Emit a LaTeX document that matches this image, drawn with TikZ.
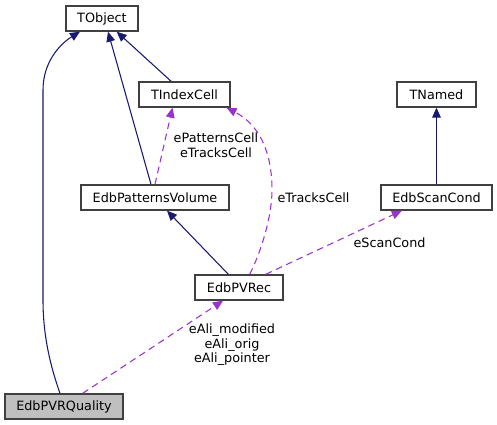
\documentclass[tikz,border=0pt]{standalone}
\usepackage{fontspec}
\setmainfont{DejaVu Sans}
\usetikzlibrary{arrows.meta}
\definecolor{inhc}{HTML}{191970}
\definecolor{usec}{HTML}{9A32CD}
\definecolor{boxc}{HTML}{404040}
\begin{document}
\begin{tikzpicture}[x=0.75pt,y=-0.75pt,
  cls/.style={draw=boxc,line width=1pt,fill=white,inner sep=0pt,minimum height=18.75pt,font=\fontsize{9.6pt}{11pt}\selectfont},
  inh/.style={draw=inhc,line width=0.8pt,-{Triangle[length=7.5pt,width=6.5pt]}},
  use/.style={draw=usec,line width=0.8pt,dash pattern=on 5pt off 3.5pt,-{Triangle[length=7.5pt,width=6.5pt]}},
  lbl/.style={font=\fontsize{9.6pt}{10.9pt}\selectfont,align=center,text=black,inner sep=0pt}]
\useasboundingbox (0,0) rectangle (497,425);
\node[cls,minimum width=54pt] (tobj) at (102,18.5) {TObject};
\node[cls,minimum width=68.25pt] (tidx) at (184.5,94.5) {TIndexCell};
\node[cls,minimum width=59.25pt] (tnam) at (436.5,94.5) {TNamed};
\node[cls,minimum width=111pt] (epv) at (155,197.5) {EdbPatternsVolume};
\node[cls,minimum width=83.25pt] (esc) at (436.5,197.5) {EdbScanCond};
\node[cls,minimum width=66pt] (pvr) at (239,287.5) {EdbPVRec};
\node[cls,minimum width=88.5pt,fill={rgb,255:red,191;green,191;blue,191}] (qual) at (64,406.5) {EdbPVRQuality};
% inheritance
\draw[inh] ([xshift=-3pt]qual.north) .. controls (50,365) and (43,335) .. (43,300)
   -- (43,90) .. controls (43,62) and (60,44) .. ([xshift=-16.5pt]tobj.south);
\draw[inh] ([xshift=-3pt]epv.north) -- ([xshift=4.5pt]tobj.south);
\draw[inh] ([xshift=-10pt]tidx.north) -- ([xshift=11pt]tobj.south);
\draw[inh] (esc.north) -- (tnam.south);
\draw[inh] ([xshift=-8pt]pvr.north) -- ([xshift=9pt]epv.south);
% usage
\draw[use] (epv.north) -- ([xshift=-9pt]tidx.south);
\node[lbl] (lb1) at (216,145) {ePatternsCell\\eTracksCell};
\draw[use] ([xshift=8pt]pvr.north) .. controls (262,250) and (272,215) .. (272,190)
   .. controls (272,150) and (258,124) .. ([xshift=31.5pt]tidx.south);
\node[lbl] (lb2) at (313.5,197.5) {eTracksCell};
\draw[use] ([xshift=20pt]pvr.north) -- ([xshift=-26pt]esc.south);
\node[lbl] (lb3) at (389.5,242.5) {eScanCond};
\draw[use] ([xshift=14pt]qual.north) -- ([xshift=-12pt]pvr.south);
\node[lbl] (lb4) at (232,345) {eAli\_modified\\eAli\_orig\\eAli\_pointer};
\end{tikzpicture}
\end{document}
